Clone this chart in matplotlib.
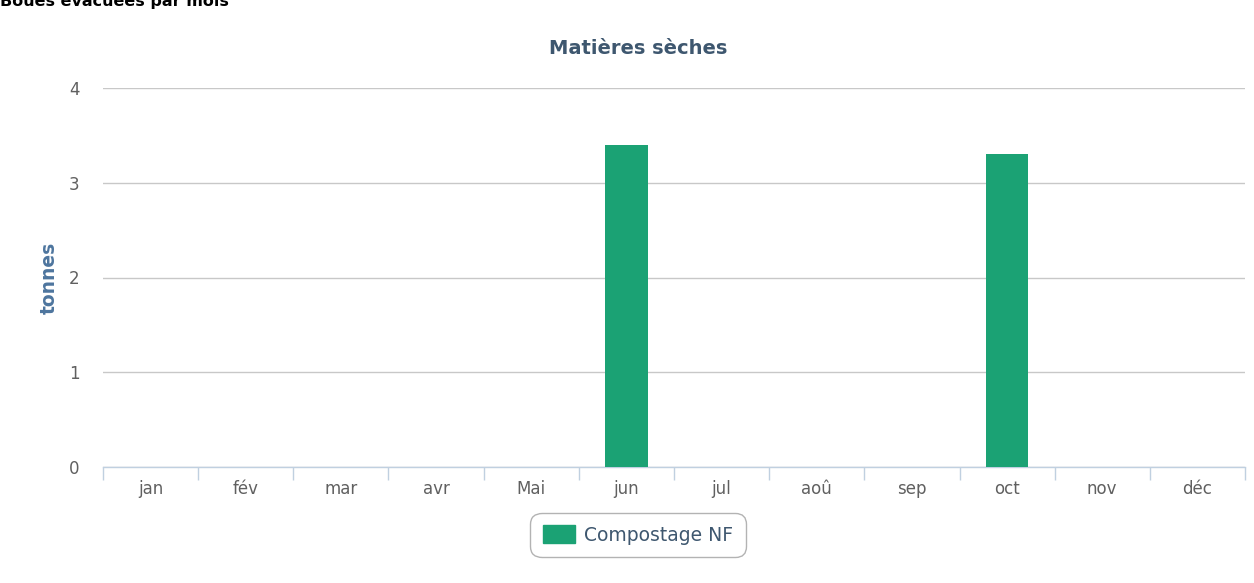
import matplotlib
matplotlib.use("Agg")
import matplotlib.pyplot as plt
from matplotlib.patches import Patch

months = ["jan", "fév", "mar", "avr", "Mai", "jun", "jul", "aoû", "sep", "oct", "nov", "déc"]
compostage_nf = [0, 0, 0, 0, 0, 3.4, 0, 0, 0, 3.3, 0, 0]
yticks = [0, 1, 2, 3, 4]

bar_color = "#1ba274"
fig = plt.figure(figsize=(12.54, 5.83), dpi=100)
ax = fig.add_axes([103/1254, 1-467/583, (1245-103)/1254, (467-88)/583])

x = list(range(len(months)))
ax.bar(x, compostage_nf, width=0.45, color=bar_color, zorder=3)

ax.set_xlim(-0.5, len(months)-0.5)
ax.set_ylim(0, 4)
ax.set_yticks(yticks)
ax.set_yticklabels([str(v) for v in yticks])
ax.grid(axis="y", color="#c8c8c8", linewidth=1, zorder=0)
ax.tick_params(axis="y", length=0, pad=17, labelsize=12, labelcolor="#606060")

ax.set_xticks(x)
ax.set_xticklabels(months)
ax.tick_params(axis="x", length=0, pad=9, labelsize=12, labelcolor="#606060")
ax.set_xticks([i - 0.5 for i in range(len(months)+1)], minor=True)
ax.tick_params(axis="x", which="minor", length=9, color="#c0d0e0", width=1)

for s in ["top", "right", "left"]:
    ax.spines[s].set_visible(False)
ax.spines["bottom"].set_color("#c0d0e0")
ax.spines["bottom"].set_linewidth(1)

ax.set_ylabel("tonnes", fontsize=13.5, fontweight="bold", color="#4d759e", labelpad=7)

fig.text(638/1254, 1-48/583, "Matières sèches", ha="center", va="center",
         fontsize=14, fontweight="bold", color="#3e576f")
fig.text(0, 1-1/583, "Boues évacuées par mois", ha="left", va="center",
         fontsize=11.5, fontweight="bold", color="#000000")

leg = fig.legend(handles=[Patch(facecolor=bar_color, edgecolor=bar_color, label="Compostage NF")],
                 loc="center", bbox_to_anchor=(638/1254, 1-535/583), frameon=True,
                 fontsize=13.5, handlelength=1.7, handleheight=1.1, borderpad=0.55,
                 handletextpad=0.5, fancybox=True, edgecolor="#a0a0a0", labelcolor="#3e576f")
leg.get_frame().set_linewidth(1)
leg.get_frame().set_boxstyle("round", pad=0.12, rounding_size=0.6)

fig.savefig("out.png", dpi=100)
